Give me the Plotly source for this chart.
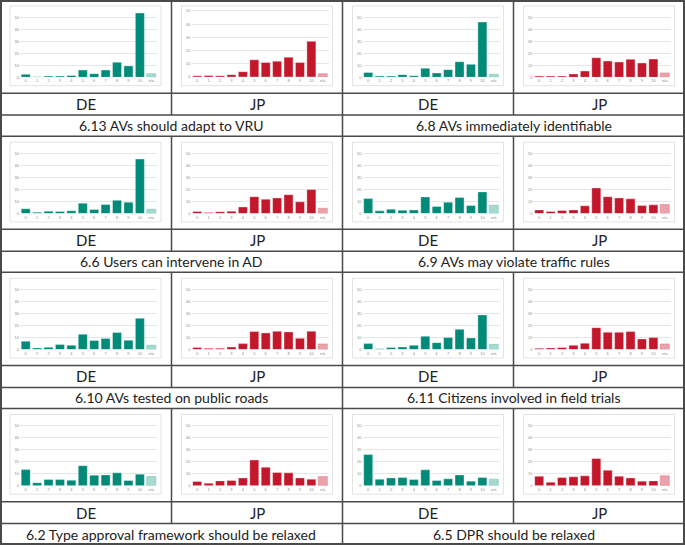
import plotly.graph_objects as go

W, H = 685, 547

cats = ['0', '1', '2', '3', '4', '5', '6', '7', '8', '9', '10', 'n/a']

titles = ['6.13 AVs should adapt to VRU', '6.8 AVs immediately identifiable',
          '6.6 Users can intervene in AD', '6.9 AVs may violate traffic rules',
          '6.10 AVs tested on public roads', '6.11 Citizens involved in field trials',
          '6.2 Type approval framework should be relaxed', '6.5 DPR should be relaxed']

de_613 = [2.5, 0.5, 1, 1, 1.5, 6, 3, 6, 12.5, 9.5, 53.5, 3]
jp_613 = [1, 1.2, 1, 1.8, 4, 13, 11, 12, 15, 11, 27, 2.5]
de_68 = [4, 1, 1, 2.2, 1.4, 7.5, 3.6, 6.4, 13, 10.8, 46, 2.5]
jp_68 = [1, 1, 1, 2.8, 5.2, 16.3, 13.5, 12.7, 15, 11.9, 15.2, 3.6]
de_66 = [3.9, 1.1, 1.9, 1.7, 2.2, 8.6, 3.3, 7.5, 11, 9.4, 45.3, 3.6]
jp_66 = [1.7, 0.8, 1.4, 1.9, 5.5, 14, 11.9, 13, 15.7, 9.7, 19.9, 4.4]
de_69 = [12.4, 2.2, 3.6, 2.8, 3, 13.8, 5.8, 9.4, 13.3, 6.6, 18, 6.9]
jp_69 = [3, 1.7, 2.5, 3, 6.4, 21.3, 14, 13, 12.2, 6.6, 7.2, 7.5]
de_610 = [6.9, 1.4, 1.9, 4.2, 3.6, 12.8, 7.5, 9.2, 14.2, 7.8, 26.1, 3.6]
jp_610 = [1.7, 1.1, 1.1, 2.2, 5, 15, 13.9, 15.3, 14.7, 9.4, 15.3, 4.7]
de_611 = [5, 0.8, 1.7, 2.2, 3.6, 11.1, 5.8, 10, 16.9, 9.7, 28.9, 4.4]
jp_611 = [1.1, 1.4, 1.7, 3.6, 5.3, 18.3, 14.4, 14.4, 15, 8.9, 10, 4.7]
de_62 = [13.5, 2.5, 5.2, 5.2, 4.7, 16.8, 8.8, 9.1, 10.8, 4.4, 9.7, 7.7]
jp_62 = [3.6, 2.2, 4.1, 4.4, 6.6, 21.5, 15.5, 11, 10.8, 6.6, 5.5, 7.7]
de_65 = [26, 5.5, 6.6, 6.9, 5.2, 13.3, 4.4, 5.8, 9.1, 3.9, 6.9, 5.5]
jp_65 = [8, 3, 6.9, 7.5, 8.3, 22.7, 13, 8, 6.6, 3.9, 4.1, 8.3]

# (row, half) -> (de, jp)
panels = [(de_613, jp_613), (de_68, jp_68), (de_66, jp_66), (de_69, jp_69),
          (de_610, jp_610), (de_611, jp_611), (de_62, jp_62), (de_65, jp_65)]

teal, teal_l = '#008a77', '#a6d9d0'
red, red_l = '#c3172b', '#eba3ab'

def fx(x): return x / W
def fy(y): return 1 - y / H

row_tops = [0, 136.7, 273.3, 410]
col_lefts = [0, 171.5, 342.5, 513.5]
line_c = '#4a4a4a'

fig = go.Figure()
shapes, annos = [], []
n = 0
for k, (de, jp) in enumerate(panels):
    r, half = k // 2, k % 2
    top = row_tops[r]
    for j, (vals, c, cl, lab) in enumerate([(de, teal, teal_l, 'DE'), (jp, red, red_l, 'JP')]):
        n += 1
        L = col_lefts[half * 2 + j]
        zero, g50 = top + 77.6, top + 17.3
        if k == 0 and j == 1:
            zero, g50 = top + 77.3, top + 11
        unit = (zero - g50) / 50
        ytop = zero - 55 * unit
        fig.add_trace(go.Bar(
            x=cats, y=vals, xaxis='x%d' % n, yaxis='y%d' % n,
            marker=dict(color=[c] * 11 + [cl],
                        line=dict(color=['rgba(255,255,255,0.6)'] * 11 + ['#7cc5b9' if j == 0 else '#e07f8a'],
                                  width=0.6)),
            showlegend=False, hoverinfo='x+y'))
        fig.layout['xaxis%d' % n] = dict(
            domain=[fx(L + 20), fx(L + 157)], anchor='y%d' % n, type='category',
            tickfont=dict(size=4, color='#8c8c8c', family='Liberation Sans'),
            showgrid=False, ticks='', showline=False, fixedrange=True)
        fig.layout['yaxis%d' % n] = dict(
            domain=[fy(zero), fy(ytop)], anchor='x%d' % n, range=[0, 55],
            tickvals=[0, 10, 20, 30, 40, 50],
            tickfont=dict(size=4, color='#8c8c8c', family='Liberation Sans'),
            gridcolor='#e6e6e6', gridwidth=0.8, zeroline=False, showline=False,
            fixedrange=True)
        # chart frame
        shapes.append(dict(type='rect', xref='paper', yref='paper',
                           x0=fx(L + 10), x1=fx(L + 161), y0=fy(top + 86), y1=fy(top + 6),
                           line=dict(color='#dcdcdc', width=0.8)))
        annos.append(dict(text=lab, xref='paper', yref='paper',
                          x=fx(L + 85.75), y=fy(top + 104.5), showarrow=False,
                          xanchor='center', yanchor='middle',
                          font=dict(size=15, color='#222', family='Lato')))
    annos.append(dict(text=titles[k], xref='paper', yref='paper',
                      x=fx(342.5 * half + 171.25), y=fy(top + 126), showarrow=False,
                      xanchor='center', yanchor='middle',
                      font=dict(size=14, color='#222', family='Lato')))

def hline(y, x0=1, x1=684, w=1.5):
    shapes.append(dict(type='line', xref='paper', yref='paper', x0=fx(x0), x1=fx(x1),
                       y0=fy(y), y1=fy(y), line=dict(color=line_c, width=w)))

def vline(x, y0, y1, w=1.5):
    shapes.append(dict(type='line', xref='paper', yref='paper', x0=fx(x), x1=fx(x),
                       y0=fy(y0), y1=fy(y1), line=dict(color=line_c, width=w)))

for t in row_tops:
    hline(t + 1 if t == 0 else t, w=2 if t == 0 else 1.5)
    hline(t + 93.5)
    hline(t + 115.5)
    vline(171.5, t, t + 115.5)
    vline(513.5, t, t + 115.5)
hline(546, w=2)
vline(1, 0, 547, w=2)
vline(684, 0, 547, w=2)
vline(342.5, 0, 547)

fig.update_layout(width=W, height=H, margin=dict(l=0, r=0, t=0, b=0),
                  paper_bgcolor='white', plot_bgcolor='white', bargap=0.21,
                  shapes=shapes, annotations=annos)
fig.write_html("out.html", config={'displayModeBar': False},
               post_script="document.body.style.margin='0';document.body.style.overflow='hidden';")
